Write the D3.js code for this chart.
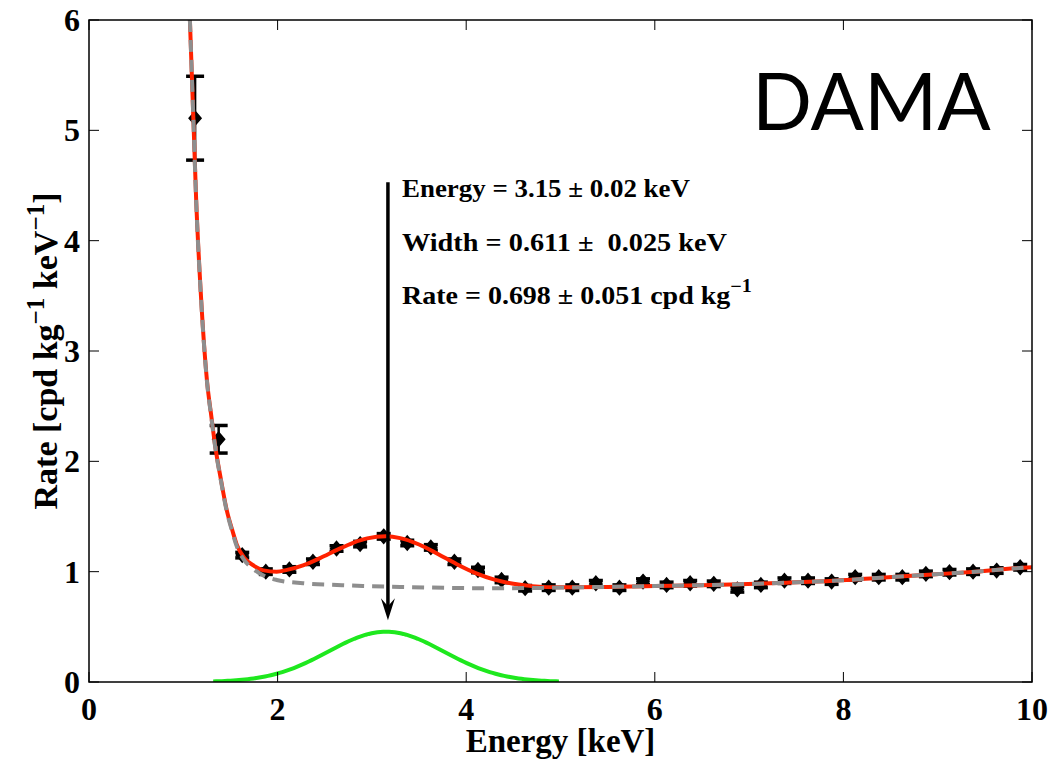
<!DOCTYPE html>
<html>
<head>
<meta charset="utf-8">
<script src="https://cdn.jsdelivr.net/npm/d3@7"></script>
<style>
  body { margin: 0; background: #fff; }
  .serif { font-family: "Liberation Serif", "Times New Roman", serif; font-weight: bold; }
</style>
</head>
<body>
<svg id="chart" width="1052" height="762"></svg>
<script>
// Measured spectrum: bin centres (keV), rate (cpd/kg/keV), 1-sigma errors
const energy = [1.125, 1.375, 1.625, 1.875, 2.125, 2.375, 2.625, 2.875, 3.125, 3.375,
                3.625, 3.875, 4.125, 4.375, 4.625, 4.875, 5.125, 5.375, 5.625, 5.875,
                6.125, 6.375, 6.625, 6.875, 7.125, 7.375, 7.625, 7.875, 8.125, 8.375,
                8.625, 8.875, 9.125, 9.375, 9.625, 9.875];
const rate = [5.11, 2.20, 1.15, 1.00, 1.02, 1.09, 1.21, 1.25, 1.32, 1.26,
              1.22, 1.09, 1.015, 0.925, 0.85, 0.855, 0.855, 0.895, 0.855, 0.91,
              0.88, 0.895, 0.89, 0.84, 0.88, 0.918, 0.918, 0.91, 0.95, 0.95,
              0.95, 0.98, 0.995, 1.00, 1.01, 1.04];
const rateErr = [0.38, 0.125, 0.025, 0.025, 0.025, 0.025, 0.025, 0.025, 0.025, 0.025,
                 0.025, 0.025, 0.025, 0.025, 0.025, 0.025, 0.025, 0.025, 0.025, 0.025,
                 0.025, 0.025, 0.025, 0.025, 0.025, 0.025, 0.025, 0.025, 0.025, 0.025,
                 0.025, 0.025, 0.025, 0.025, 0.025, 0.025];

// Background model (grey dashed)
const bgEnergy = [1.07, 1.107, 1.136, 1.19, 1.249, 1.3, 1.338, 1.4, 1.46, 1.52, 1.568, 1.65,
                  1.75, 1.85, 1.99, 2.27, 2.63, 2.9, 3.3, 3.83, 4.2, 4.8, 5.5, 6.0, 6.5,
                  6.9, 7.4, 7.9, 8.4, 8.9, 9.4, 9.9, 10.0];
const bgRate = [6.0, 5.1, 4.37, 3.45, 2.74, 2.38, 2.13, 1.82, 1.55, 1.36, 1.227, 1.1,
                1.02, 0.965, 0.925, 0.895, 0.88, 0.87, 0.862, 0.853, 0.85, 0.853, 0.862, 0.87, 0.878,
                0.886, 0.9, 0.918, 0.945, 0.972, 1.0, 1.035, 1.04];

// Total fit: background + peak (red)
const fitEnergy = [1.07, 1.107, 1.136, 1.19, 1.249, 1.3, 1.338, 1.4, 1.46, 1.52, 1.568, 1.65,
                   1.75, 1.85, 1.99, 2.1, 2.27, 2.45, 2.63, 2.8, 2.95, 3.15, 3.3, 3.5, 3.7,
                   3.9, 4.1, 4.3, 4.5, 4.7, 5.0, 5.5, 6.0, 6.5, 6.9, 7.4, 7.9, 8.4, 8.9,
                   9.4, 9.9, 10.0];
const fitRate = [6.0, 5.1, 4.38, 3.46, 2.75, 2.39, 2.14, 1.83, 1.56, 1.375, 1.243, 1.122,
                 1.053, 1.012, 1.0, 1.016, 1.057, 1.123, 1.197, 1.262, 1.302, 1.32, 1.304, 1.246, 1.16,
                 1.068, 0.987, 0.928, 0.89, 0.869, 0.858, 0.862, 0.87, 0.878, 0.886, 0.9, 0.918, 0.945, 0.972,
                 1.0, 1.035, 1.04];

// Fitted Gaussian line parameters
const peakEnergy = 3.15;   // keV
const peakWidth = 0.611;   // keV (sigma)
const peakRate = 0.698;    // cpd/kg (area)
const arrowEnergy = 3.17;
const arrowFrom = 4.53, arrowTo = 0.56;

const xTicks = [0, 2, 4, 6, 8, 10];
const yTicks = [0, 1, 2, 3, 4, 5, 6];

const svg = d3.select("#chart");
const W = 1052, H = 762;
const m = { left: 89, right: 20, top: 20, bottom: 80 };
const x = d3.scaleLinear().domain([0, 10]).range([m.left, W - m.right]);
const y = d3.scaleLinear().domain([0, 6]).range([H - m.bottom, m.top]);

svg.append("rect").attr("width", W).attr("height", H).attr("fill", "#fff");

svg.append("defs").append("clipPath").attr("id", "plot")
  .append("rect").attr("x", x(0)).attr("y", y(6)).attr("width", x(10) - x(0)).attr("height", y(0) - y(6));

const plot = svg.append("g").attr("clip-path", "url(#plot)");

// Gaussian component drawn over +-3 sigma
const amp = peakRate / (Math.sqrt(2 * Math.PI) * peakWidth);
const gx = d3.range(-3, 3.0001, 0.05).map(k => peakEnergy + k * peakWidth);
const gauss = gx.map(e => [e, amp * Math.exp(-0.5 * ((e - peakEnergy) / peakWidth) ** 2)]);

const line = d3.line().x(d => x(d[0])).y(d => y(d[1]));
const smooth = d3.line().x(d => x(d[0])).y(d => y(d[1])).curve(d3.curveMonotoneX);

plot.append("path").datum(gauss).attr("d", line)
  .attr("fill", "none").attr("stroke", "#1ee81e").attr("stroke-width", 4);

// data markers with error bars
const pts = energy.map((e, i) => ({ e, r: rate[i], s: rateErr[i] }));
const mk = plot.append("g").attr("fill", "#000").attr("stroke", "#000");
pts.forEach(p => {
  const cx = x(p.e), cy = y(p.r), big = p.s > 0.05;
  const cw = big ? 9 : 7;
  mk.append("line").attr("x1", cx).attr("x2", cx).attr("y1", y(p.r + p.s)).attr("y2", y(p.r - p.s))
    .attr("stroke-width", big ? 2.5 : 2);
  [p.r + p.s, p.r - p.s].forEach(v => {
    mk.append("line").attr("x1", cx - cw).attr("x2", cx + cw).attr("y1", y(v)).attr("y2", y(v))
      .attr("stroke-width", 3.5);
  });
  mk.append("path").attr("d", `M${cx},${cy - 7}L${cx + 6},${cy}L${cx},${cy + 7}L${cx - 6},${cy}Z`)
    .attr("stroke-width", 1.5);
});

plot.append("path").datum(fitEnergy.map((e, i) => [e, fitRate[i]])).attr("d", smooth)
  .attr("fill", "none").attr("stroke", "#ff2200").attr("stroke-width", 4);
plot.append("path").datum(bgEnergy.map((e, i) => [e, bgRate[i]])).attr("d", smooth)
  .attr("fill", "none").attr("stroke", "#8e8e8e").attr("stroke-width", 4)
  .attr("stroke-dasharray", "12,8");

// arrow marking the peak position
const ax = x(arrowEnergy);
svg.append("line").attr("x1", ax).attr("x2", ax).attr("y1", y(arrowFrom)).attr("y2", y(arrowTo) - 12)
  .attr("stroke", "#000").attr("stroke-width", 3.5);
svg.append("path")
  .attr("d", `M${ax},${y(arrowTo)}L${ax - 7},${y(arrowTo) - 22}L${ax},${y(arrowTo) - 14}L${ax + 7},${y(arrowTo) - 22}Z`)
  .attr("fill", "#000");

// frame and inward ticks on all sides
svg.append("rect").attr("x", x(0)).attr("y", y(6)).attr("width", x(10) - x(0)).attr("height", y(0) - y(6))
  .attr("fill", "none").attr("stroke", "#000").attr("stroke-width", 1.5);
const tl = 10;
const tg = svg.append("g").attr("stroke", "#000").attr("stroke-width", 1);
xTicks.forEach(t => {
  tg.append("line").attr("x1", x(t)).attr("x2", x(t)).attr("y1", y(0)).attr("y2", y(0) - tl);
  tg.append("line").attr("x1", x(t)).attr("x2", x(t)).attr("y1", y(6)).attr("y2", y(6) + tl);
});
yTicks.forEach(t => {
  tg.append("line").attr("x1", x(0)).attr("x2", x(0) + tl).attr("y1", y(t)).attr("y2", y(t));
  tg.append("line").attr("x1", x(10)).attr("x2", x(10) - tl).attr("y1", y(t)).attr("y2", y(t));
});

// tick labels
svg.append("g").selectAll("text").data(xTicks).join("text").attr("class", "serif")
  .attr("x", d => x(d)).attr("y", y(0) + 38).attr("text-anchor", "middle")
  .attr("font-size", 32).text(d => d);
svg.append("g").selectAll("text").data(yTicks).join("text").attr("class", "serif")
  .attr("x", x(0) - 9).attr("y", d => y(d) + 11).attr("text-anchor", "end")
  .attr("font-size", 32).text(d => d);

// axis titles
svg.append("text").attr("class", "serif").attr("x", (x(0) + x(10)) / 2).attr("y", 752)
  .attr("text-anchor", "middle").attr("font-size", 33).text("Energy [keV]");

const yl = svg.append("text").attr("class", "serif").attr("font-size", 34)
  .attr("text-anchor", "middle").attr("transform", `translate(57,${(y(0) + y(6)) / 2}) rotate(-90)`);
yl.append("tspan").text("Rate [cpd kg");
yl.append("tspan").attr("dy", -13).attr("font-size", 25).text("\u22121");
yl.append("tspan").attr("dy", 13).text(" keV");
yl.append("tspan").attr("dy", -13).attr("font-size", 25).text("\u22121");
yl.append("tspan").attr("dy", 13).text("]");

// fit result annotation, each line stretched to its set width
const annX = 402;
const ann = svg.append("g").attr("class", "serif").attr("font-size", 25);
function annLine(yPos, width, build) {
  const g = ann.append("g");
  const t = g.append("text").attr("x", 0).attr("y", 0).attr("xml:space", "preserve");
  build(t);
  const w = t.node().getComputedTextLength();
  g.attr("transform", `translate(${annX},${yPos}) scale(${width / w},1)`);
}
annLine(197, 288, t => t.text("Energy = 3.15 \u00b1 0.02 keV"));
annLine(251, 325, t => t.text("Width = 0.611 \u00b1  0.025 keV"));
annLine(304, 350, t => {
  t.append("tspan").text("Rate = 0.698 \u00b1 0.051 cpd kg");
  t.append("tspan").attr("dy", -12).attr("font-size", 18).text("\u22121");
});

svg.append("text").attr("x", 752).attr("y", 130)
  .attr("font-family", "Lato, 'Open Sans', sans-serif").attr("font-size", 79)
  .text("DAMA");
</script>
</body>
</html>
